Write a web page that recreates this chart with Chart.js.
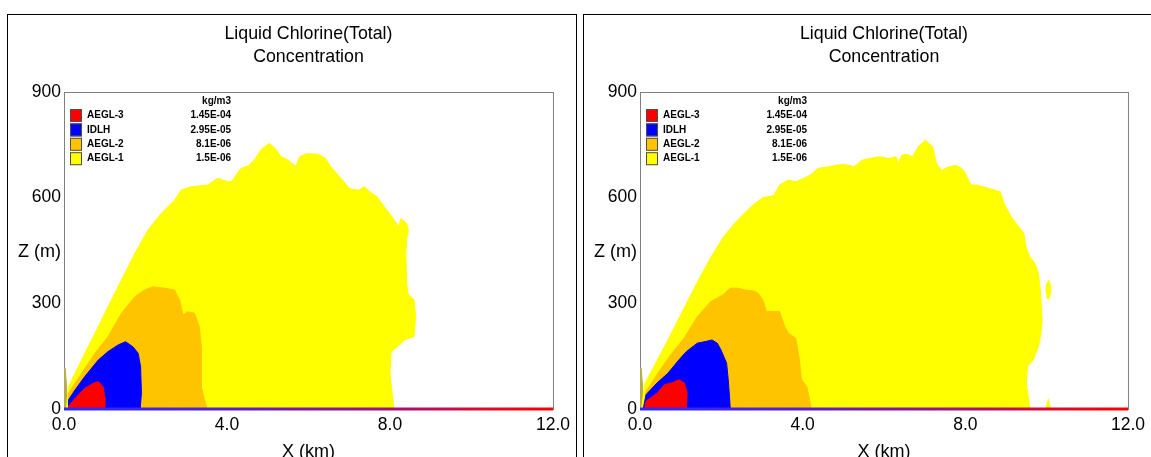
<!DOCTYPE html>
<html>
<head>
<meta charset="utf-8">
<script src="https://cdn.jsdelivr.net/npm/chart.js@4.4.1/dist/chart.umd.min.js"></script>
<style>
  html, body { margin: 0; padding: 0; background: #fff; width: 1151px; height: 457px; overflow: hidden; }
  .panel { position: absolute; border: 1px solid #000; box-sizing: border-box; }
  #p1 { left: 7px; top: 14px; width: 570px; height: 520px; }
  #p2 { left: 583px; top: 14px; width: 620px; height: 520px; }
  canvas { position: absolute; }
  #c1 { left: 8px; top: 15px; }
  #c2 { left: 584px; top: 15px; }
</style>
</head>
<body>
<div class="panel" id="p1"></div>
<div class="panel" id="p2"></div>
<canvas id="c1" width="568" height="460"></canvas>
<canvas id="c2" width="567" height="460"></canvas>
<script>
// axis ticks
const xTicks = [0, 4, 8, 12];
const zTicks = [0, 300, 600, 900];

// legend
const legendLabels = ['AEGL-3', 'IDLH', 'AEGL-2', 'AEGL-1'];
const legendValues = ['1.45E-04', '2.95E-05', '8.1E-06', '1.5E-06'];
const legendUnit = 'kg/m3';
const legendColors = ['#ff0000', '#0000ff', '#ffc400', '#ffff00'];

// ground line (z = 0)
const groundX = [0, 12];
const groundZ = [0, 0];

// thin strip at the source
const sourceX = [0, 0.1, 0.03, 0];
const sourceZ = [0, 0, 116, 116];

// left panel contours (x in km, z in m)
const leftAegl1X = [0.06,0.11,0.43,0.76,1.08,1.41,1.74,2.06,2.39,2.71,2.88,3.12,3.53,3.77,4.02,4.11,4.34,4.52,4.67,4.83,4.92,5.04,5.19,5.33,5.51,5.69,5.78,5.96,6.24,6.42,6.55,6.69,6.87,7.00,7.23,7.37,7.50,7.68,7.86,8.05,8.21,8.27,8.41,8.45,8.41,8.39,8.41,8.45,8.59,8.63,8.59,8.36,8.14,8.03,8.00,8.05,8.10];
const leftAegl1Z = [0,63,139,215,290,366,442,508,556,593,622,631,636,655,645,645,683,690,707,735,744,754,739,716,706,688,716,725,723,711,688,669,645,626,621,631,617,603,574,546,518,541,527,508,484,442,357,324,310,263,206,196,173,163,102,45,0];
const leftAegl2X = [0.10,0.11,0.43,0.76,1.08,1.41,1.74,1.98,2.18,2.47,2.71,2.84,2.92,3.04,3.20,3.32,3.37,3.37,3.45,3.51];
const leftAegl2Z = [0,45,101,158,205,272,319,338,347,343,338,309,267,276,272,234,177,63,26,0];
const leftIdlhX = [0.10,0.11,0.27,0.51,0.84,1.08,1.33,1.51,1.69,1.82,1.88,1.90,1.87];
const leftIdlhZ = [0,26,54,92,139,163,182,191,177,158,120,45,0];
const leftAegl3X = [0.11,0.11,0.27,0.51,0.72,0.84,0.96,1.00,1.00];
const leftAegl3Z = [0,7,30,59,73,78,63,35,0];

// right panel contours
const rightAegl1X = [0.04,0.11,0.43,0.76,1.08,1.41,1.74,2.06,2.35,2.6,2.84,3.02,3.29,3.43,3.65,3.83,4.01,4.19,4.37,4.64,5.00,5.27,5.45,5.63,5.90,6.12,6.30,6.35,6.44,6.57,6.70,6.84,7.02,7.20,7.29,7.42,7.60,7.78,7.96,8.14,8.28,8.59,8.86,8.95,9.13,9.31,9.44,9.49,9.58,9.71,9.80,9.85,9.89,9.86,9.80,9.67,9.53,9.50,9.56,9.59];
const rightAegl1Z = [0,70,140,212,285,360,430,490,530,560,585,600,606,636,650,645,654,664,683,688,695,688,706,711,716,711,716,697,721,723,716,744,763,744,697,678,688,692,678,636,636,626,617,584,546,518,499,461,433,414,385,329,253,215,178,140,121,74,26,0];
const rightIsle1X = [10.0,10.05,10.1,10.1,10.05,10.0,9.98];
const rightIsle1Z = [315,312,330,350,366,355,335];
const rightIsle2X = [9.98,10.04,10.1];
const rightIsle2Z = [0,28,0];
const rightAegl2X = [0.08,0.15,0.43,0.76,1.08,1.41,1.74,2.04,2.22,2.40,2.58,2.76,2.89,3.02,3.11,3.29,3.43,3.56,3.65,3.83,3.92,3.97,4.10,4.17,4.21];
const rightAegl2Z = [0,50,100,155,200,262,305,324,343,343,338,336,331,310,277,277,277,234,215,201,140,83,64,26,0];
const rightIdlhX = [0.08,0.15,0.42,0.69,0.96,1.14,1.41,1.63,1.77,1.90,1.99,2.13,2.17,2.20,2.22];
const rightIdlhZ = [0,41,74,102,140,163,187,192,196,187,168,130,83,36,0];
const rightAegl3X = [0.11,0.15,0.42,0.60,0.78,0.96,1.09,1.16,1.14];
const rightAegl3Z = [0,22,45,69,74,83,74,45,0];

const FONT = '"Liberation Sans", Arial, sans-serif';

function pts(xs, zs) {
  return xs.map((x, i) => ({ x: x, y: zs[i] }));
}

function area(label, xs, zs, color) {
  return {
    label: label,
    data: pts(xs, zs),
    showLine: true,
    fill: 'shape',
    tension: 0,
    borderWidth: 1,
    borderColor: color,
    backgroundColor: color,
    pointRadius: 0
  };
}

function groundLine() {
  return {
    label: 'ground',
    data: pts(groundX, groundZ),
    showLine: true,
    fill: false,
    clip: false,
    borderWidth: 3,
    pointRadius: 0,
    borderColor: (c) => {
      const a = c.chart.chartArea;
      if (!a) return '#3030ff';
      const g = c.chart.ctx.createLinearGradient(a.left, 0, a.right, 0);
      g.addColorStop(0, '#2a2aff');
      g.addColorStop(0.3, '#5020d8');
      g.addColorStop(0.65, '#a01080');
      g.addColorStop(0.85, '#e00830');
      g.addColorStop(1, '#ff0000');
      return g;
    }
  };
}

// plot frame, legend and the horizontal Z label
const decor = {
  id: 'decor',
  beforeDatasetsDraw(chart) {
    const a = chart.chartArea, ctx = chart.ctx;
    ctx.save();
    ctx.strokeStyle = '#808080';
    ctx.lineWidth = 1;
    ctx.strokeRect(a.left + 0.5, a.top + 0.5, a.right - a.left, a.bottom - a.top);
    ctx.restore();
  },
  afterDatasetsDraw(chart) {
    const a = chart.chartArea, ctx = chart.ctx;
    ctx.save();
    ctx.font = 'bold 10px ' + FONT;
    ctx.textBaseline = 'middle';
    ctx.fillStyle = '#000';
    ctx.textAlign = 'right';
    ctx.fillText(legendUnit, a.left + 167, a.top + 9);
    legendLabels.forEach((lab, i) => {
      const y = a.top + 23.5 + i * 14.4;
      ctx.fillStyle = legendColors[i];
      ctx.fillRect(a.left + 6, y - 6.5, 12, 13);
      ctx.strokeStyle = '#505050';
      ctx.lineWidth = 1;
      ctx.strokeRect(a.left + 6.5, y - 6, 11, 12);
      ctx.fillStyle = '#000';
      ctx.textAlign = 'left';
      ctx.fillText(lab, a.left + 23, y);
      ctx.textAlign = 'right';
      ctx.fillText(legendValues[i], a.left + 167, y);
    });
    ctx.font = '18px ' + FONT;
    ctx.textAlign = 'right';
    ctx.fillText('Z (m)', a.left - 3, a.top + 160);
    ctx.restore();
  }
};

function makeChart(id, layers) {
  const canvas = document.getElementById(id);
  const H = canvas.height;
  return new Chart(canvas, {
    type: 'scatter',
    data: { datasets: [groundLine()].concat(layers) },
    options: {
      responsive: false,
      animation: false,
      devicePixelRatio: 1,
      layout: { padding: { left: 0, right: 21, top: 0, bottom: 0 } },
      plugins: {
        legend: { display: false },
        tooltip: { enabled: false },
        title: {
          display: true,
          fullSize: false,
          text: ['Liquid Chlorine(Total)', 'Concentration'],
          color: '#000',
          font: { family: FONT, size: 17.8, weight: 'normal', lineHeight: 23 / 17.8 },
          padding: { top: 8, bottom: 23 }
        }
      },
      scales: {
        x: {
          type: 'linear', min: 0, max: 12,
          afterBuildTicks: (s) => { s.ticks = xTicks.map(v => ({ value: v })); },
          afterFit: (s) => { s.height = H - 394; },
          grid: { display: false, drawTicks: false },
          border: { display: false },
          ticks: {
            color: '#000', padding: 6, maxRotation: 0, autoSkip: false,
            font: { family: FONT, size: 17.5 },
            callback: (v) => Number(v).toFixed(1)
          },
          title: {
            display: true, text: 'X (km)', color: '#000',
            font: { family: FONT, size: 18 },
            padding: { top: 0, bottom: 12 }
          }
        },
        y: {
          type: 'linear', min: 0, max: 900,
          afterBuildTicks: (s) => { s.ticks = zTicks.map(v => ({ value: v })); },
          afterFit: (s) => { s.width = 56; },
          grid: { display: false, drawTicks: false },
          border: { display: false },
          ticks: {
            color: '#000', padding: 3, autoSkip: false,
            font: { family: FONT, size: 17.5 }
          }
        }
      }
    },
    plugins: [decor]
  });
}

makeChart('c1', [
  area('AEGL-3', leftAegl3X, leftAegl3Z, legendColors[0]),
  area('IDLH', leftIdlhX, leftIdlhZ, legendColors[1]),
  area('AEGL-2', leftAegl2X, leftAegl2Z, legendColors[2]),
  area('AEGL-1', leftAegl1X, leftAegl1Z, legendColors[3]),
  area('source', sourceX, sourceZ, '#b5ad4a')
]);

makeChart('c2', [
  area('AEGL-3', rightAegl3X, rightAegl3Z, legendColors[0]),
  area('IDLH', rightIdlhX, rightIdlhZ, legendColors[1]),
  area('AEGL-2', rightAegl2X, rightAegl2Z, legendColors[2]),
  area('AEGL-1', rightAegl1X, rightAegl1Z, legendColors[3]),
  area('AEGL-1', rightIsle1X, rightIsle1Z, legendColors[3]),
  area('AEGL-1', rightIsle2X, rightIsle2Z, legendColors[3]),
  area('source', sourceX, sourceZ, '#b5ad4a')
]);
</script>
</body>
</html>
